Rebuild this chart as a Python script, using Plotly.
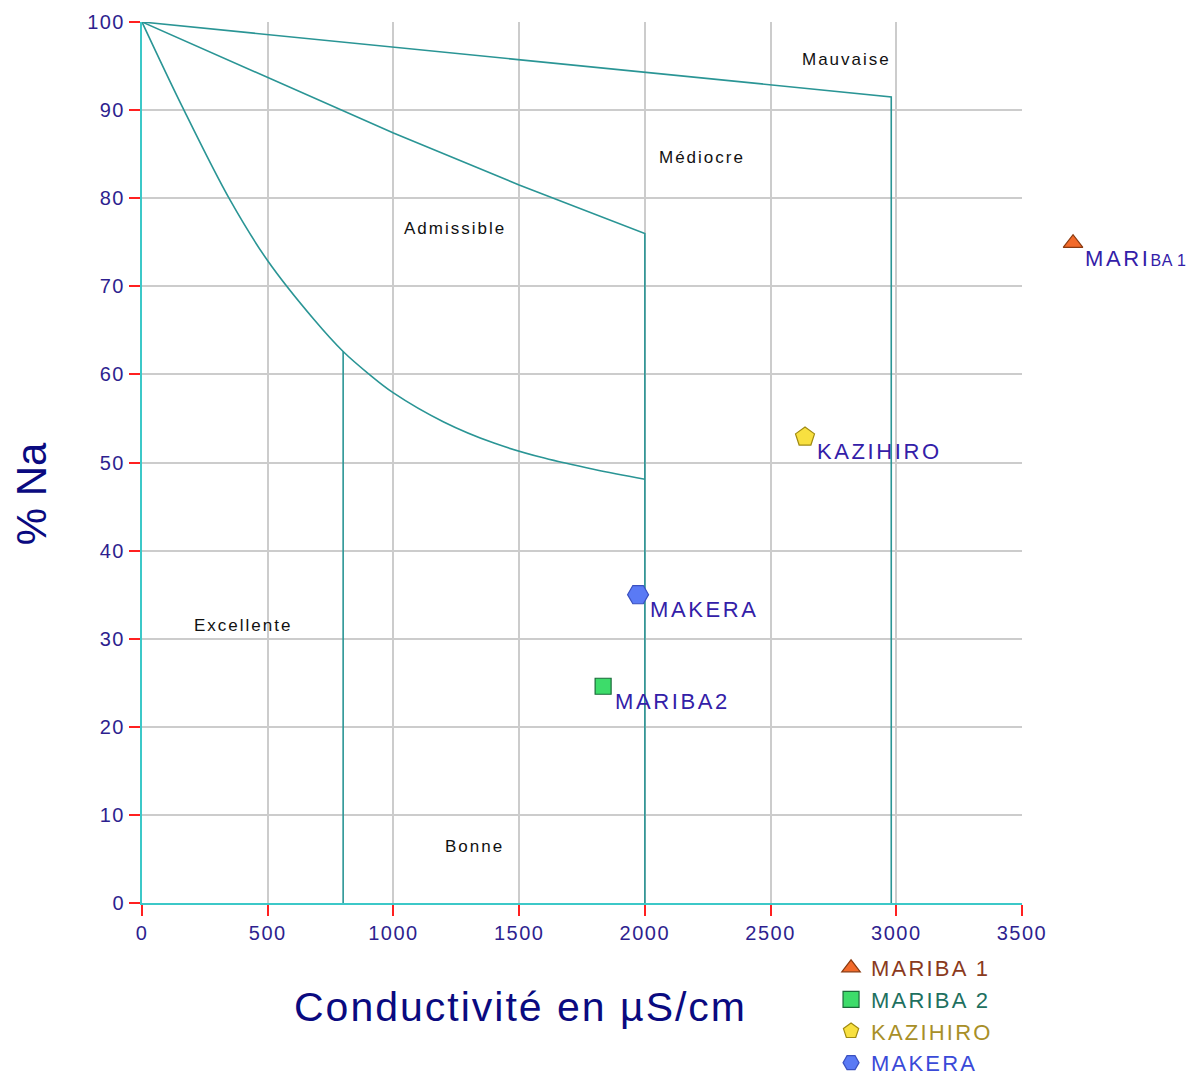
import plotly.graph_objects as go

# ---------------- data ----------------
samples = ["MARIBA 1", "MARIBA 2", "KAZIHIRO", "MAKERA"]
point_labels = ["MARI<span style='font-size:16px;letter-spacing:0.6px'>BA 1</span>", "MARIBA2", "KAZIHIRO", "MAKERA"]
conductivity = [3703, 1834, 2637, 1973]
na_percent = [74.9, 24.6, 52.9, 35.0]

# Wilcox boundaries
top_x = [0, 2980, 2980]
top_y = [100, 91.5, 0]
mid_x = [0, 500, 1000, 1500, 2000, 2000]
mid_y = [100, 93.7, 87.4, 81.5, 76.0, 0]
low_x = [0, 160, 350, 500, 685, 800, 900, 1000, 1200, 1400, 1600, 1800, 2000]
low_y = [100, 90.4, 79.8, 72.9, 66.2, 62.6, 60.1, 57.9, 54.6, 52.2, 50.5, 49.2, 48.1]
v800_x = [800, 800]
v800_y = [62.6, 0]

region_names = ["Mauvaise", "Médiocre", "Admissible", "Excellente", "Bonne"]
region_x = [2800, 2228, 1245, 402, 1321]
region_y = [95.7, 84.6, 76.6, 31.5, 6.4]

x_ticks = [0, 500, 1000, 1500, 2000, 2500, 3000, 3500]
y_ticks = [0, 10, 20, 30, 40, 50, 60, 70, 80, 90, 100]
x_range = [0, 3500]
y_range = [0, 100]

# ---------------- styles ----------------
symbols = ["triangle-up", "square", "pentagon", "hexagon2"]
fills = ["#f26a2a", "#3ddc6a", "#f8e040", "#5a7af5"]
edges = ["#8a3a10", "#1a6a3a", "#a08a10", "#3a50c0"]
sizes = [17, 16, 20, 21]
legend_colors = ["#8a3a20", "#1e7060", "#a88f28", "#3a4ad8"]

LINE = "#2a9595"
AXIS = "#3cc8c8"
TICKC = "#ff2020"
LABC = "#2e1f8f"

# figure geometry: main plot occupies the left part of the paper, an
# invisible wider overlay axis (same scale) hosts points beyond 3500
PLOT_W = 880.0
PAPER_W = 1056.0
main_frac = PLOT_W / PAPER_W
wide_range = [0, x_range[1] / main_frac]

fig = go.Figure()

for xs, ys, shape in [(top_x, top_y, "linear"), (mid_x, mid_y, "linear"),
                      (low_x, low_y, "spline"), (v800_x, v800_y, "linear")]:
    fig.add_trace(go.Scatter(x=xs, y=ys, mode="lines", line=dict(color=LINE, width=1.6, shape=shape),
                             showlegend=False, hoverinfo="skip"))

for i, name in enumerate(samples):
    outside = conductivity[i] > x_range[1]
    xa, ya = ("x2", "y2") if outside else ("x", "y")
    fig.add_trace(go.Scatter(
        x=[conductivity[i]], y=[na_percent[i]], mode="markers",
        xaxis=xa, yaxis=ya,
        name=f"<span style='color:{legend_colors[i]};letter-spacing:2.2px'>{name}</span>",
        marker=dict(symbol=symbols[i], size=sizes[i], color=fills[i], line=dict(color=edges[i], width=1.2)),
        cliponaxis=False))
    fig.add_annotation(x=conductivity[i], y=na_percent[i], xref=xa, yref=ya,
                       text=f"<span style='letter-spacing:2.6px'>{point_labels[i]}</span>",
                       showarrow=False, xanchor="left", yanchor="middle", xshift=10, yshift=-15,
                       font=dict(family="Arial", size=22, color="#3320a8"))

for name, rx, ry in zip(region_names, region_x, region_y):
    fig.add_annotation(x=rx, y=ry, xref="x", yref="y",
                       text=f"<span style='letter-spacing:2px'>{name}</span>",
                       showarrow=False, xanchor="center", yanchor="middle",
                       font=dict(family="Arial", size=17, color="#111111"))

# axis titles
fig.add_annotation(x=0.358, y=-0.118, xref="paper", yref="paper",
                   text="<span style='letter-spacing:2px'>Conductivité en µS/cm</span>",
                   showarrow=False, xanchor="center", yanchor="middle",
                   font=dict(family="Arial", size=41, color="#0a0a80"))
fig.add_annotation(x=-0.105, y=0.464, xref="paper", yref="paper", text="% Na", textangle=-90,
                   showarrow=False, xanchor="center", yanchor="middle",
                   font=dict(family="Arial", size=42, color="#0a0a80"))

def tt(vals):
    return [f"<span style='letter-spacing:1.5px'>{v}</span>" for v in vals]

axis_style = dict(showgrid=True, gridcolor="#cccccc", gridwidth=1.5, zeroline=False,
                  showline=True, linecolor=AXIS, linewidth=2,
                  ticks="outside", ticklen=11, tickwidth=2, tickcolor=TICKC,
                  tickfont=dict(family="Arial", size=20, color=LABC))

fig.update_layout(
    xaxis=dict(range=x_range, domain=[0, main_frac], tickvals=x_ticks, ticktext=tt(x_ticks), **axis_style),
    yaxis=dict(range=y_range, tickvals=y_ticks, ticktext=tt(y_ticks), **axis_style),
    xaxis2=dict(range=wide_range, domain=[0, 1], anchor="y2", visible=False),
    yaxis2=dict(range=y_range, domain=[0, 1], anchor="x2", visible=False),
    width=1190, height=1071,
    margin=dict(l=134, r=0, t=14, b=176, autoexpand=False),
    plot_bgcolor="rgba(0,0,0,0)", paper_bgcolor="white",
    showlegend=True,
    legend=dict(x=0.6525, y=-0.05, xanchor="left", yanchor="top",
                font=dict(family="Arial", size=22), bgcolor="rgba(0,0,0,0)",
                itemwidth=30, tracegroupgap=0),
)

fig.write_html("out.html")
